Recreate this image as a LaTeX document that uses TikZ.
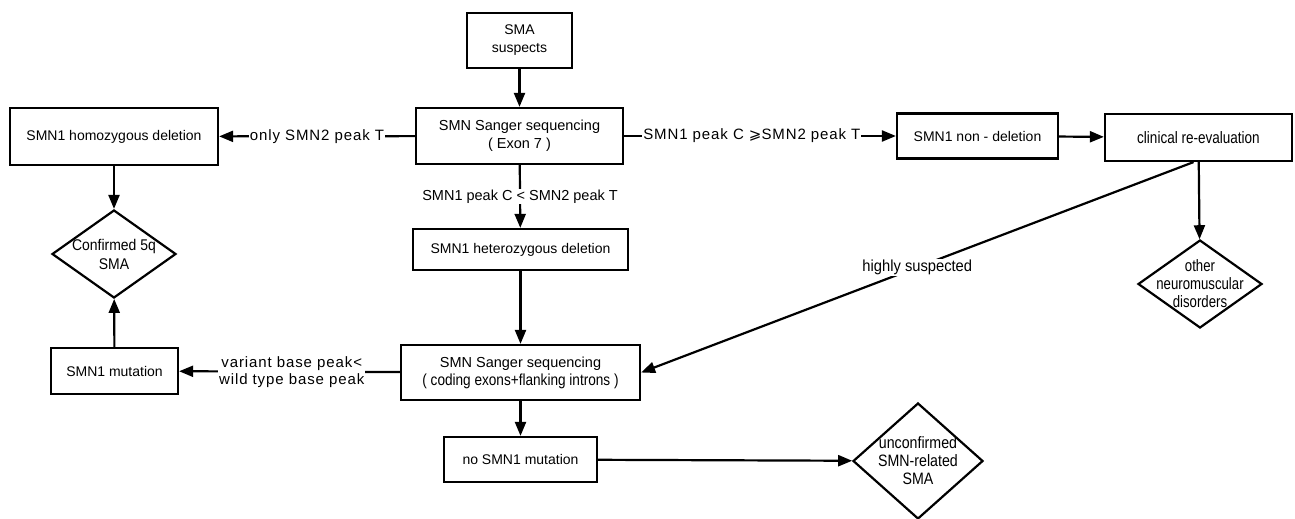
\documentclass[tikz,border=0pt]{standalone}
\usepackage{fontspec}
\usepackage{graphicx}
\setmainfont{Liberation Sans}
\newfontfamily\symfont{DejaVu Sans}
\newfontfamily\widefont[LetterSpace=6]{Liberation Sans}
\newcommand\nar[2][0.8]{\scalebox{#1}[1]{#2}}
\usetikzlibrary{arrows.meta,shapes.geometric}
\begin{document}
\begin{tikzpicture}[x=1pt,y=-1pt,
  every node/.style={font=\fontsize{14}{18}\selectfont},
  box/.style={draw,line width=2.2pt,inner sep=0pt,align=center},
  dia/.style={draw,diamond,line width=2.2pt,inner sep=0pt},
  lab/.style={inner sep=1pt,align=center},
  tall/.style={font=\fontsize{16.5}{18}\selectfont},
  elab/.style={inner sep=1pt,align=center,fill=white,font=\fontsize{15}{19}\widefont},
  conn/.style={line width=2.2pt,-{Triangle[length=14pt,width=11pt]}}]
\useasboundingbox (0,0) rectangle (1295,519);
% boxes
\node[box,minimum width=105pt,minimum height=55pt] (sus) at (519.5,40.5) {SMA\\suspects};
\node[box,minimum width=207pt,minimum height=56pt,font=\fontsize{14.5}{18}\selectfont] (san) at (519.5,136) {SMN Sanger sequencing\\( Exon 7 )};
\node[box,minimum width=208pt,minimum height=57pt] (hom) at (114,136.5) {SMN1 homozygous deletion};
\node[box,minimum width=161pt,minimum height=45pt] (non) at (977.5,136) {SMN1 non - deletion};
\node[box,tall,minimum width=187pt,minimum height=47pt] (cli) at (1198.5,137.5) {\nar[0.82]{clinical re-evaluation}};
\node[box,minimum width=215pt,minimum height=41pt] (het) at (520.5,249.5) {SMN1 heterozygous deletion};
\node[box,minimum width=239pt,minimum height=55pt,font=\fontsize{14.5}{18}\selectfont] (san2) at (520.5,372.5) {SMN Sanger sequencing\\\fontsize{16}{18}\selectfont\nar[0.85]{( coding exons+flanking introns )}};
\node[box,minimum width=127pt,minimum height=46pt] (mut) at (114.5,371) {SMN1 mutation};
\node[box,minimum width=153pt,minimum height=45pt] (nomut) at (520.5,459.5) {no SMN1 mutation};
% diamonds
\node[dia,minimum width=124pt,minimum height=88pt] (conf) at (114,254) {};
\node[lab,font=\fontsize{15.5}{19}\selectfont] at (conf) {\nar[0.9]{Confirmed 5q}\\\nar[0.9]{SMA}};
\node[dia,minimum width=124pt,minimum height=88pt] (oth) at (1200,284) {};
\node[lab,tall] at (oth) {\nar{other}\\\nar{neuromuscular}\\\nar{disorders}};
\node[dia,minimum width=130pt,minimum height=116pt] (unc) at (918,461) {};
\node[lab,tall] at (unc) {\nar[0.86]{unconfirmed}\\\nar[0.86]{SMN-related}\\\nar[0.86]{SMA}};
% connectors
\coordinate (dstart) at ([xshift=-5pt]cli.south);
\draw[conn] (sus) -- (san);
\draw[conn] (san) -- node[lab,fill=white,font=\fontsize{14.5}{18}\selectfont] {SMN1 peak C < SMN2 peak T} (het);
\draw[conn] (san) -- node[elab] {only SMN2 peak T} (hom);
\draw[conn] (san) -- node[elab,pos=0.47] {SMN1 peak C {\symfont ⩾}SMN2 peak T} (non);
\draw[conn] (non) -- (cli);
\draw[conn] (cli) -- (oth);
\draw[conn] (dstart) -- node[lab,fill=white,pos=0.5,font=\fontsize{16}{18}\selectfont] {\nar[0.92]{highly suspected}} (san2.east);
\draw[conn] (hom) -- (conf);
\draw[conn] (mut) -- (conf);
\draw[conn] (het) -- (san2);
\draw[conn] (san2) -- node[elab,pos=0.49,font=\fontsize{15}{17}\widefont] {variant base peak<\\wild type base peak} (mut);
\draw[conn] (san2) -- (nomut);
\draw[conn] (nomut) -- (unc);
\end{tikzpicture}
\end{document}
